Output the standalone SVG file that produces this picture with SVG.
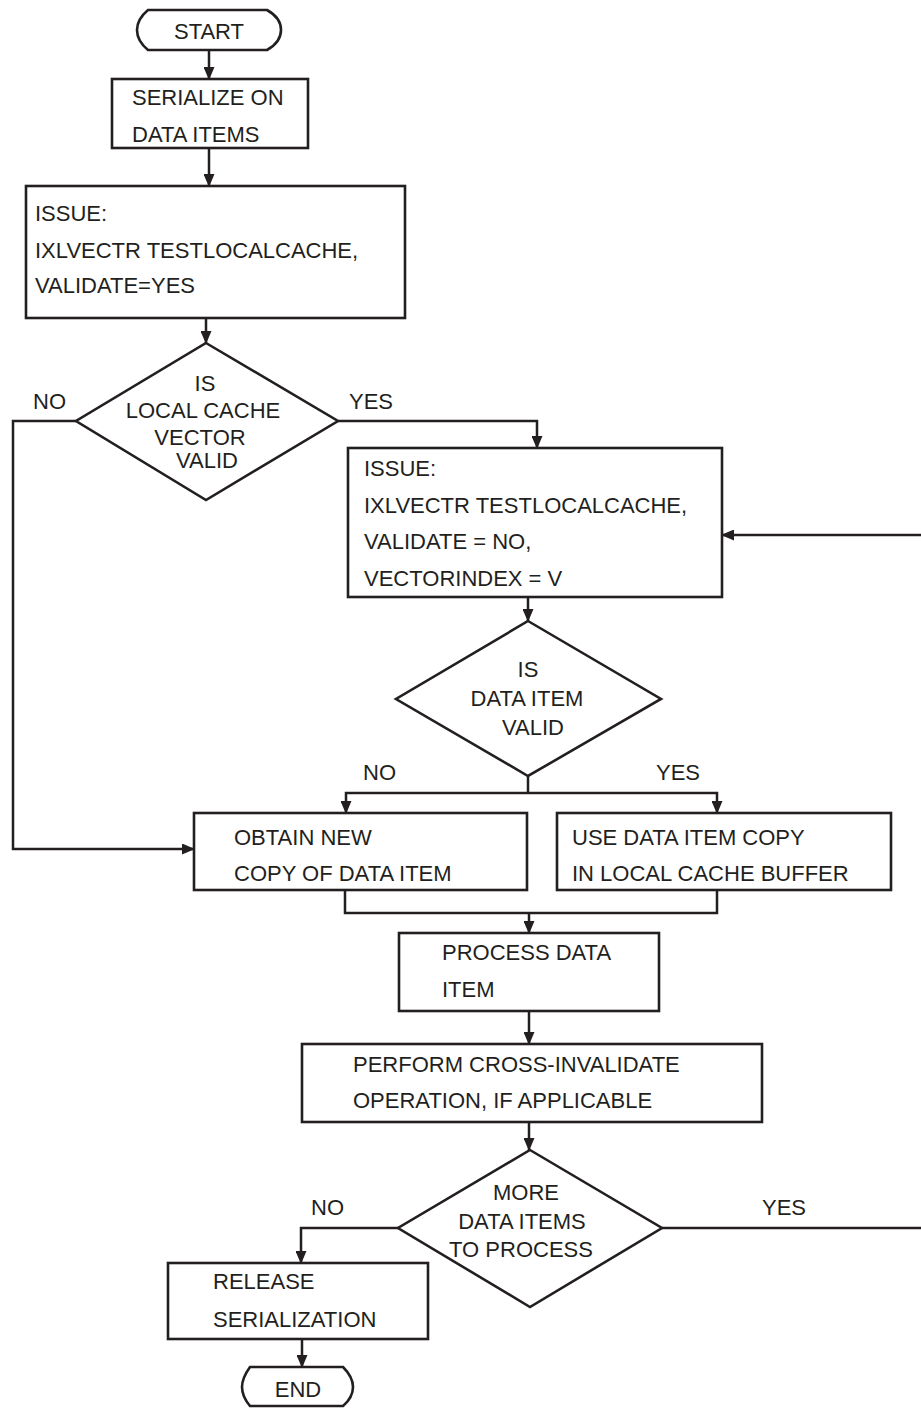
<svg xmlns="http://www.w3.org/2000/svg" width="921" height="1408" viewBox="0 0 921 1408">
<style>
.box{fill:#fff;stroke:#231f20;stroke-width:2.6}
.ln{fill:none;stroke:#231f20;stroke-width:2.5}
.t{font-family:"Liberation Sans",Arial,sans-serif;font-size:22px;fill:#231f20}
.c{text-anchor:middle}
</style>
<defs>
<marker id="ah" markerUnits="userSpaceOnUse" markerWidth="13" markerHeight="11" refX="12" refY="5.5" orient="auto">
<path d="M0,0 L13,5.5 L0,11 Z" fill="#231f20"/>
</marker>
</defs>
<rect width="921" height="1408" fill="#fff"/>
<g id="connectors">
<path class="ln" d="M209,50 V79" marker-end="url(#ah)"/>
<path class="ln" d="M209,148 V186" marker-end="url(#ah)"/>
<path class="ln" d="M206,318 V343" marker-end="url(#ah)"/>
<path class="ln" d="M76,421 H13 V849 H194" marker-end="url(#ah)"/>
<path class="ln" d="M338,421 H537 V448" marker-end="url(#ah)"/>
<path class="ln" d="M925,535 H722" marker-end="url(#ah)"/>
<path class="ln" d="M528,597 V621" marker-end="url(#ah)"/>
<path class="ln" d="M528,776 V793"/>
<path class="ln" d="M528,793 H346 V813" marker-end="url(#ah)"/>
<path class="ln" d="M528,793 H717 V813" marker-end="url(#ah)"/>
<path class="ln" d="M345,890 V913 H717 V890"/>
<path class="ln" d="M529,913 V933" marker-end="url(#ah)"/>
<path class="ln" d="M529,1011 V1044" marker-end="url(#ah)"/>
<path class="ln" d="M529,1122 V1150" marker-end="url(#ah)"/>
<path class="ln" d="M398,1228 H301 V1263" marker-end="url(#ah)"/>
<path class="ln" d="M662,1228 H925"/>
<path class="ln" d="M302,1339 V1367" marker-end="url(#ah)"/>
</g>
<g id="start">
<path class="box" d="M148,10 H267 C276,15 281,22 281,30 C281,38 276,45 267,50 H148 C142,45 137,38 137,30 C137,22 142,15 148,10 Z"/>
<text class="t c" x="209" y="39">START</text>
</g>
<g id="serialize">
<rect class="box" x="112" y="79" width="196" height="69"/>
<text class="t" x="132" y="105">SERIALIZE ON</text>
<text class="t" x="132" y="142">DATA ITEMS</text>
</g>
<g id="issue1">
<rect class="box" x="26" y="186" width="379" height="132"/>
<text class="t" x="35" y="221">ISSUE:</text>
<text class="t" x="35" y="258">IXLVECTR TESTLOCALCACHE,</text>
<text class="t" x="35" y="293">VALIDATE=YES</text>
</g>
<g id="decision1">
<polygon class="box" points="206,343 338,421 206,500 76,421"/>
<text class="t c" x="205" y="391">IS</text>
<text class="t c" x="203" y="418">LOCAL CACHE</text>
<text class="t c" x="200" y="445">VECTOR</text>
<text class="t c" x="207" y="468">VALID</text>
<text class="t" x="33" y="409">NO</text>
<text class="t" x="349" y="409">YES</text>
</g>
<g id="issue2">
<rect class="box" x="348" y="448" width="374" height="149"/>
<text class="t" x="364" y="476">ISSUE:</text>
<text class="t" x="364" y="513">IXLVECTR TESTLOCALCACHE,</text>
<text class="t" x="364" y="549">VALIDATE = NO,</text>
<text class="t" x="364" y="586">VECTORINDEX = V</text>
</g>
<g id="decision2">
<polygon class="box" points="528,621 661,699 528,776 396,699"/>
<text class="t c" x="528" y="677">IS</text>
<text class="t c" x="527" y="706">DATA ITEM</text>
<text class="t c" x="533" y="735">VALID</text>
<text class="t" x="363" y="780">NO</text>
<text class="t" x="656" y="780">YES</text>
</g>
<g id="obtain">
<rect class="box" x="194" y="813" width="333" height="77"/>
<text class="t" x="234" y="845">OBTAIN NEW</text>
<text class="t" x="234" y="881">COPY OF DATA ITEM</text>
</g>
<g id="use">
<rect class="box" x="557" y="813" width="334" height="77"/>
<text class="t" x="572" y="845">USE DATA ITEM COPY</text>
<text class="t" x="572" y="881">IN LOCAL CACHE BUFFER</text>
</g>
<g id="process">
<rect class="box" x="399" y="933" width="260" height="78"/>
<text class="t" x="442" y="960">PROCESS DATA</text>
<text class="t" x="442" y="997">ITEM</text>
</g>
<g id="perform">
<rect class="box" x="302" y="1044" width="460" height="78"/>
<text class="t" x="353" y="1072">PERFORM CROSS-INVALIDATE</text>
<text class="t" x="353" y="1108">OPERATION, IF APPLICABLE</text>
</g>
<g id="decision3">
<polygon class="box" points="530,1150 662,1228 530,1307 398,1228"/>
<text class="t c" x="526" y="1200">MORE</text>
<text class="t c" x="522" y="1229">DATA ITEMS</text>
<text class="t c" x="521" y="1257">TO PROCESS</text>
<text class="t" x="311" y="1215">NO</text>
<text class="t" x="762" y="1215">YES</text>
</g>
<g id="release">
<rect class="box" x="168" y="1263" width="260" height="76"/>
<text class="t" x="213" y="1289">RELEASE</text>
<text class="t" x="213" y="1327">SERIALIZATION</text>
</g>
<g id="end">
<path class="box" d="M250,1367 H343 C350,1374 353,1380 353,1387 C353,1394 350,1400 343,1406 H250 C245,1400 242,1394 242,1387 C242,1380 245,1374 250,1367 Z"/>
<text class="t c" x="298" y="1397">END</text>
</g>
</svg>
